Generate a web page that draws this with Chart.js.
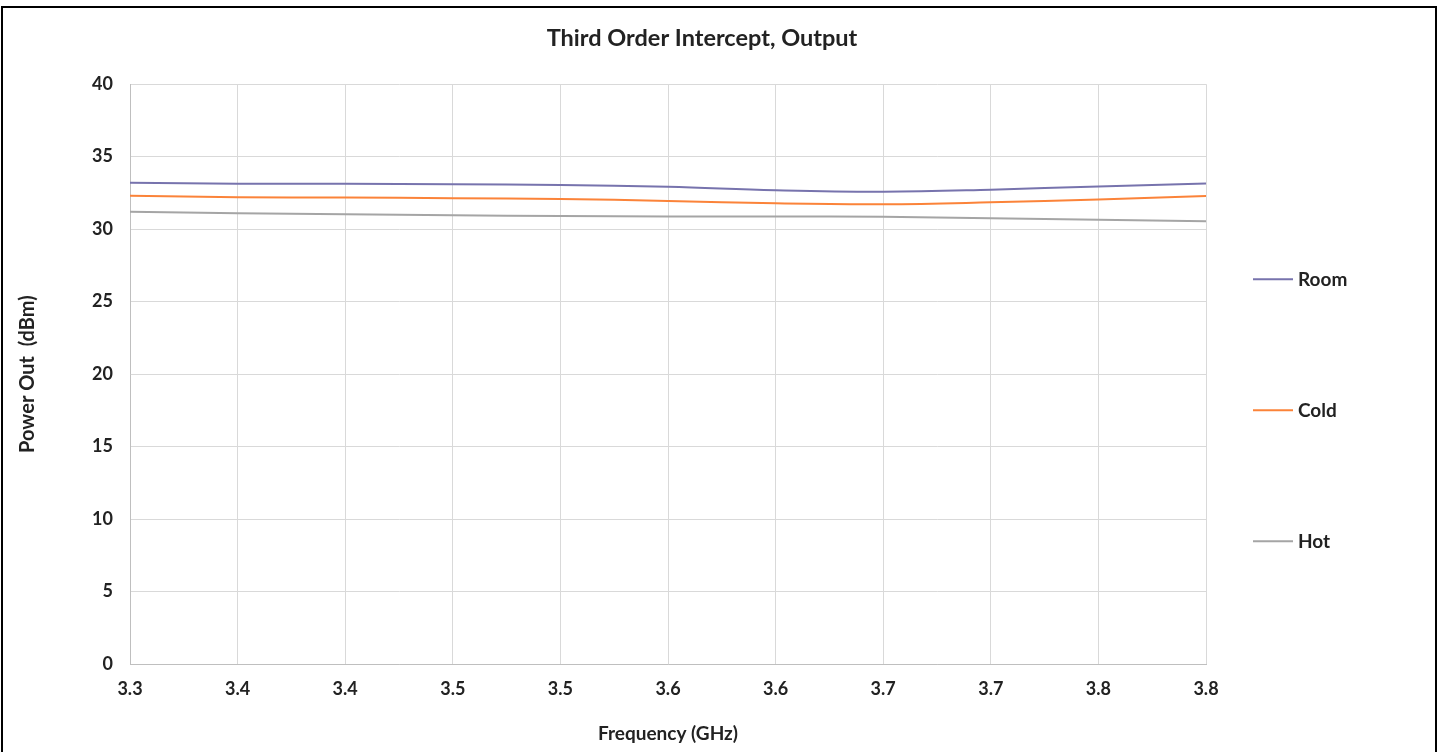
<!DOCTYPE html>
<html>
<head>
<meta charset="utf-8">
<title>Third Order Intercept, Output</title>
<script src="https://cdn.jsdelivr.net/npm/chart.js@4"></script>
<style>
  html, body { margin: 0; padding: 0; background: #fff; overflow: hidden; }
  #frame {
    position: absolute; left: 1px; top: 6px; width: 1436px; height: 800px;
    box-sizing: border-box; border: 2px solid #000; pointer-events: none;
  }
  canvas { position: absolute; left: 0; top: 0; }
</style>
</head>
<body>
<canvas id="chart" width="1440" height="752"></canvas>
<div id="frame"></div>
<script>
// x categories (GHz, shown with one decimal)
const frequencyLabels = ["3.3", "3.4", "3.4", "3.5", "3.5", "3.6", "3.6", "3.7", "3.7", "3.8", "3.8"];
// output power per temperature (dBm)
const roomValues = [33.2, 33.13, 33.13, 33.1, 33.05, 32.92, 32.68, 32.58, 32.72, 32.95, 33.15];
const coldValues = [32.3, 32.2, 32.18, 32.14, 32.08, 31.95, 31.78, 31.72, 31.85, 32.05, 32.28];
const hotValues = [31.2, 31.1, 31.03, 30.96, 30.9, 30.88, 30.88, 30.85, 30.75, 30.65, 30.55];
// y axis range
const yMin = 0;
const yMax = 40;
const yStep = 5;

const font = "Lato, 'Open Sans', sans-serif";
const textColor = "#222";

//draws the legend on the right, in the space kept free by the "legendSpace" scale
const sideLegend = {
  id: "sideLegend",
  afterDraw(chart) {
    const ctx = chart.ctx;
    const space = chart.scales.legendSpace;
    const x0 = space.left + 47;
    ctx.save();
    ctx.font = "bold 19px " + font;
    ctx.textBaseline = "middle";
    chart.data.datasets.forEach((ds, i) => {
      const y = chart.chartArea.top + 195 + i * 131;
      ctx.strokeStyle = ds.borderColor;
      ctx.lineWidth = 2;
      ctx.beginPath();
      ctx.moveTo(x0, y);
      ctx.lineTo(x0 + 40, y);
      ctx.stroke();
      ctx.fillStyle = textColor;
      ctx.fillText(ds.label, x0 + 45, y + 1);
    });
    ctx.restore();
  },
};

new Chart(document.getElementById("chart"), {
  type: "line",
  plugins: [sideLegend],
  data: {
    labels: frequencyLabels,
    datasets: [
      { label: "Room", data: roomValues, borderColor: "#7773ad" },
      { label: "Cold", data: coldValues, borderColor: "#fb8339" },
      { label: "Hot", data: hotValues, borderColor: "#a5a5a5" },
    ],
  },
  options: {
    responsive: false,
    animation: false,
    layout: { padding: { left: 10, right: 46, top: 0, bottom: 0 } },
    elements: {
      line: { borderWidth: 2, tension: 0.4 },
      point: { radius: 0 },
    },
    plugins: {
      legend: { display: false },
      tooltip: { enabled: false },
      title: {
        display: true,
        text: "Third Order Intercept, Output",
        color: textColor,
        font: { family: font, size: 23.5, weight: "bold" },
        padding: { top: 24, bottom: 32 },
      },
    },
    scales: {
      x: {
        grid: { color: "#d9d9d9", drawTicks: false },
        border: { color: "#bfbfbf" },
        ticks: {
          color: textColor,
          padding: 14,
          maxRotation: 0,
          autoSkip: false,
          font: { family: font, size: 18, weight: "bold" },
        },
        title: {
          display: true,
          text: "Frequency (GHz)",
          color: textColor,
          font: { family: font, size: 19, weight: "bold" },
          padding: { top: 0, bottom: 7 },
        },
        afterFit(scale) { scale.height = 88; },
      },
      y: {
        min: yMin,
        max: yMax,
        grid: { color: "#d9d9d9", drawTicks: false },
        border: { color: "#bfbfbf" },
        ticks: {
          stepSize: yStep,
          color: textColor,
          padding: 17,
          font: { family: font, size: 18, weight: "bold" },
        },
        title: {
          display: true,
          text: "Power Out  (dBm)",
          color: textColor,
          font: { family: font, size: 20, weight: "bold" },
          padding: { top: 6, bottom: 0 },
        },
        afterFit(scale) { scale.width = 120; },
      },
      //empty scale on the right, only used to keep room for the legend
      legendSpace: {
        type: "linear",
        position: "right",
        grid: { display: false },
        border: { display: false },
        ticks: { display: false },
        afterFit(scale) { scale.width = 188; },
      },
    },
  },
});
</script>
</body>
</html>
